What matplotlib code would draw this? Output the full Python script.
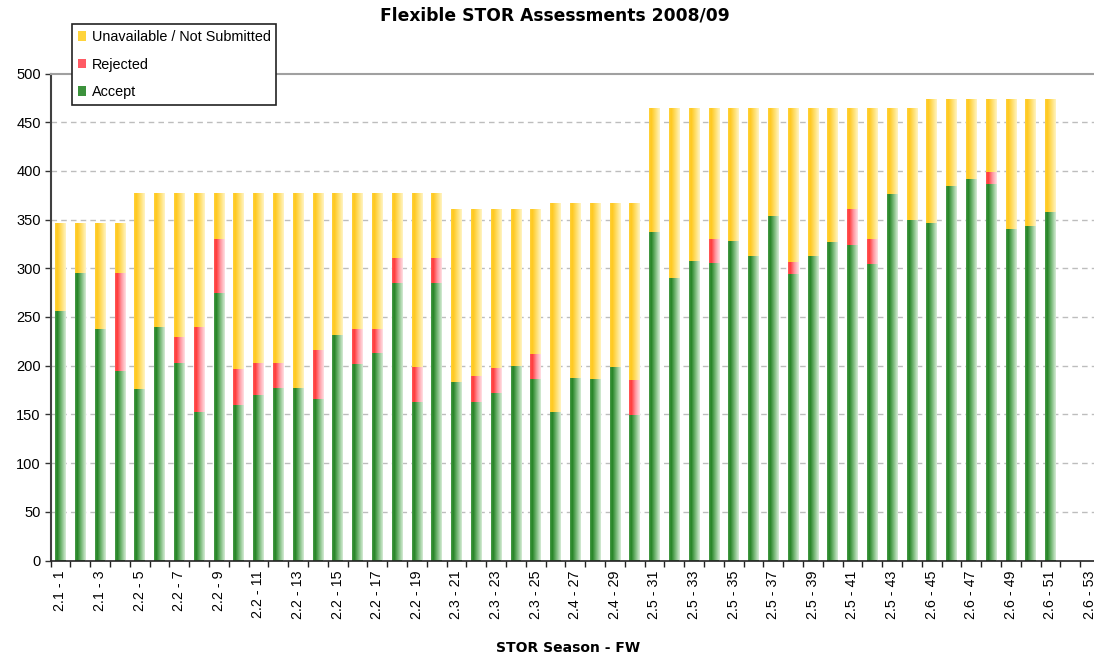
import numpy as np
import matplotlib
matplotlib.use("Agg")
import matplotlib.pyplot as plt
from matplotlib.colors import LinearSegmentedColormap
from matplotlib.patches import Patch

# ---------------- data ----------------
accept = [256, 295, 238, 195, 176, 240, 203, 152, 275, 160,
          170, 177, 177, 166, 232, 202, 213, 285, 163, 285,
          183, 163, 172, 200, 186, 152, 187, 186, 199, 149,
          337, 290, 307, 305, 328, 313, 354, 294, 313, 327,
          324, 304, 376, 350, 347, 384, 392, 387, 340, 343,
          358, 0, 0]
rejected = [0, 0, 0, 100, 0, 0, 26, 88, 55, 37,
            33, 26, 0, 50, 0, 36, 25, 26, 36, 26,
            0, 26, 26, 0, 26, 0, 0, 0, 0, 36,
            0, 0, 0, 25, 0, 0, 0, 12, 0, 0,
            37, 26, 0, 0, 0, 0, 0, 12, 0, 0,
            0, 0, 0]
unavailable = [91, 52, 109, 52, 201, 137, 148, 137, 47, 180,
               174, 174, 200, 161, 145, 139, 139, 66, 178, 66,
               178, 172, 163, 161, 149, 215, 180, 181, 168, 182,
               128, 175, 158, 135, 137, 152, 111, 159, 152, 138,
               104, 135, 89, 115, 127, 90, 82, 75, 134, 131,
               116, 0, 0]
tick_labels = ["2.1 - 1", "2.1 - 3", "2.2 - 5", "2.2 - 7", "2.2 - 9",
               "2.2 - 11", "2.2 - 13", "2.2 - 15", "2.2 - 17", "2.2 - 19",
               "2.3 - 21", "2.3 - 23", "2.3 - 25", "2.4 - 27", "2.4 - 29",
               "2.5 - 31", "2.5 - 33", "2.5 - 35", "2.5 - 37", "2.5 - 39",
               "2.5 - 41", "2.5 - 43", "2.6 - 45", "2.6 - 47", "2.6 - 49",
               "2.6 - 51", "2.6 - 53"]
series_names = ["Unavailable / Not Submitted", "Rejected", "Accept"]
title = "Flexible STOR Assessments 2008/09"
xlabel = "STOR Season - FW"

plt.rcParams['font.family'] = ['Liberation Sans', 'DejaVu Sans']

W, H = 1094, 657
fig = plt.figure(figsize=(W / 100, H / 100), dpi=100)
left_px, right_px = 50.5, 50.5 + 53 * 19.8
top_px, bot_px = 73.5, 560.5
ax = fig.add_axes([left_px / W, 1 - bot_px / H, (right_px - left_px) / W, (bot_px - top_px) / H])

x = np.arange(1, len(accept) + 1)
acc = np.array(accept, float)
rej = np.array(rejected, float)
una = np.array(unavailable, float)
bw = 0.53

cmaps = {
    "Accept": LinearSegmentedColormap.from_list("g", [(0, "#4a9c4a"), (0.2, "#238223"), (0.55, "#6fb46f"), (1, "#d6ecd6")]),
    "Rejected": LinearSegmentedColormap.from_list("r", [(0, "#ff5a5a"), (0.2, "#ff3838"), (0.6, "#ff98a2"), (1, "#ffe0e4")]),
    "Unavailable / Not Submitted": LinearSegmentedColormap.from_list("y", [(0, "#ffd23a"), (0.2, "#ffc81e"), (0.6, "#ffdf6c"), (1, "#fff4c4")]),
}
solid = {"Accept": "#3c923c", "Rejected": "#ff5a64", "Unavailable / Not Submitted": "#ffd43c"}
grad = np.linspace(0, 1, 64).reshape(1, -1)

stack = [("Accept", acc, np.zeros_like(acc)),
         ("Rejected", rej, acc),
         ("Unavailable / Not Submitted", una, acc + rej)]
for name, vals, base in stack:
    bars = ax.bar(x, vals, bw, bottom=base, color=solid[name], linewidth=0, zorder=2)
    for b in bars:
        h = b.get_height()
        if h <= 0:
            continue
        x0, y0 = b.get_x(), b.get_y()
        im = ax.imshow(grad, cmap=cmaps[name], extent=[x0, x0 + b.get_width(), y0, y0 + h],
                       aspect='auto', interpolation='bilinear', zorder=3)
        im.set_clip_path(b)

ax.set_xlim(0.5, 53.5)
ax.set_ylim(0, 500)
ax.set_yticks(np.arange(0, 501, 50))
ax.tick_params(axis='y', direction='out', length=4, width=1, color='#333333', labelsize=10.5, pad=3)
ax.set_xticks(x[::2])
ax.set_xticklabels(tick_labels, rotation=90, fontsize=10.3)
ax.set_xticks(np.arange(0.5, 53.6, 1), minor=True)
ax.tick_params(axis='x', which='major', length=0, pad=7)
ax.tick_params(axis='x', which='minor', direction='out', length=4, width=1, color='#222222')
for yv in range(50, 500, 50):
    ax.axhline(yv, color='#bdbdbd', lw=1, ls=(0, (4, 3)), zorder=1)
ax.spines['right'].set_visible(False)
ax.spines['top'].set_color('#a0a0a0')
ax.spines['top'].set_linewidth(1.5)
ax.spines['left'].set_color('#404040')
ax.spines['left'].set_linewidth(1.5)
ax.spines['bottom'].set_color('#222222')
ax.spines['bottom'].set_linewidth(1.2)

fig.text(555 / W, 1 - 16 / H, title, ha='center', va='center', fontsize=12.3,
         fontweight='bold', family=['DejaVu Sans'])
fig.text(568 / W, 1 - 648 / H, xlabel, ha='center', va='center', fontsize=10,
         fontweight='bold', family=['DejaVu Sans'])

handles = [Patch(facecolor=solid[n], edgecolor='none') for n in series_names]
leg = fig.legend(handles, series_names, loc='upper left', bbox_to_anchor=(72 / W, 1 - 24 / H),
                 borderaxespad=0, fancybox=False, frameon=True, fontsize=10.4,
                 handlelength=0.55, handleheight=0.65, handletextpad=0.4,
                 labelspacing=0.95, borderpad=0.4, framealpha=1)
leg.get_frame().set_edgecolor('#222222')
leg.get_frame().set_linewidth(1.2)
leg.set_zorder(10)

fig.savefig("out.png", dpi=100)
